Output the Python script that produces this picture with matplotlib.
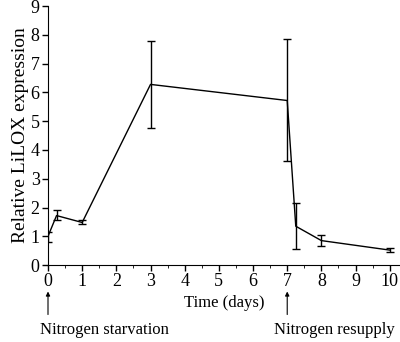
import matplotlib.pyplot as plt
from matplotlib.ticker import MultipleLocator

plt.rcParams['font.family'] = ['Liberation Serif', 'DejaVu Serif']

# data
days = [0, 0.25, 1, 3, 7, 7.25, 8, 10]
expr = [1.0, 1.72, 1.48, 6.28, 5.72, 1.35, 0.85, 0.52]
err_lo = [0.2, 0.15, 0.06, 1.52, 2.12, 0.8, 0.2, 0.07]
err_hi = [0.15, 0.21, 0.07, 1.52, 2.13, 0.8, 0.2, 0.07]

fig = plt.figure(figsize=(4, 3.42), dpi=100)
ax = fig.add_axes([0.12, 0.225, 0.88, 0.757])

ax.errorbar(days, expr, yerr=[err_lo, err_hi], color='black', linewidth=1,
            elinewidth=1, capsize=3, capthick=1)

ax.set_xlim(0, 10.3)
ax.set_ylim(0, 9)
ax.set_xticks(range(0, 11))
ax.xaxis.set_minor_locator(MultipleLocator(0.5))
ax.set_yticks(range(0, 10))
ax.spines['top'].set_visible(False)
ax.spines['right'].set_visible(False)
ax.tick_params(labelsize=13, length=4, width=1, pad=2)
ax.tick_params(which='minor', length=2.5)
ax.set_xlabel('Time (days)', fontsize=12, labelpad=3)
ax.set_ylabel('Relative LiLOX expression', fontsize=14, labelpad=1)

# arrows + notes under the axis
for xd in [0, 7]:
    ax.annotate('', xy=(xd, -0.92), xytext=(xd, -1.72), xycoords='data',
                textcoords='data', annotation_clip=False,
                arrowprops=dict(arrowstyle='-|>', color='black', lw=0.8,
                                mutation_scale=6, shrinkA=0, shrinkB=0))
ax.text(-0.22, -2.27, 'Nitrogen starvation', fontsize=12, va='center', ha='left', clip_on=False)
ax.text(10.15, -2.27, 'Nitrogen resupply', fontsize=12, va='center', ha='right', clip_on=False)

fig.savefig('out.png')
